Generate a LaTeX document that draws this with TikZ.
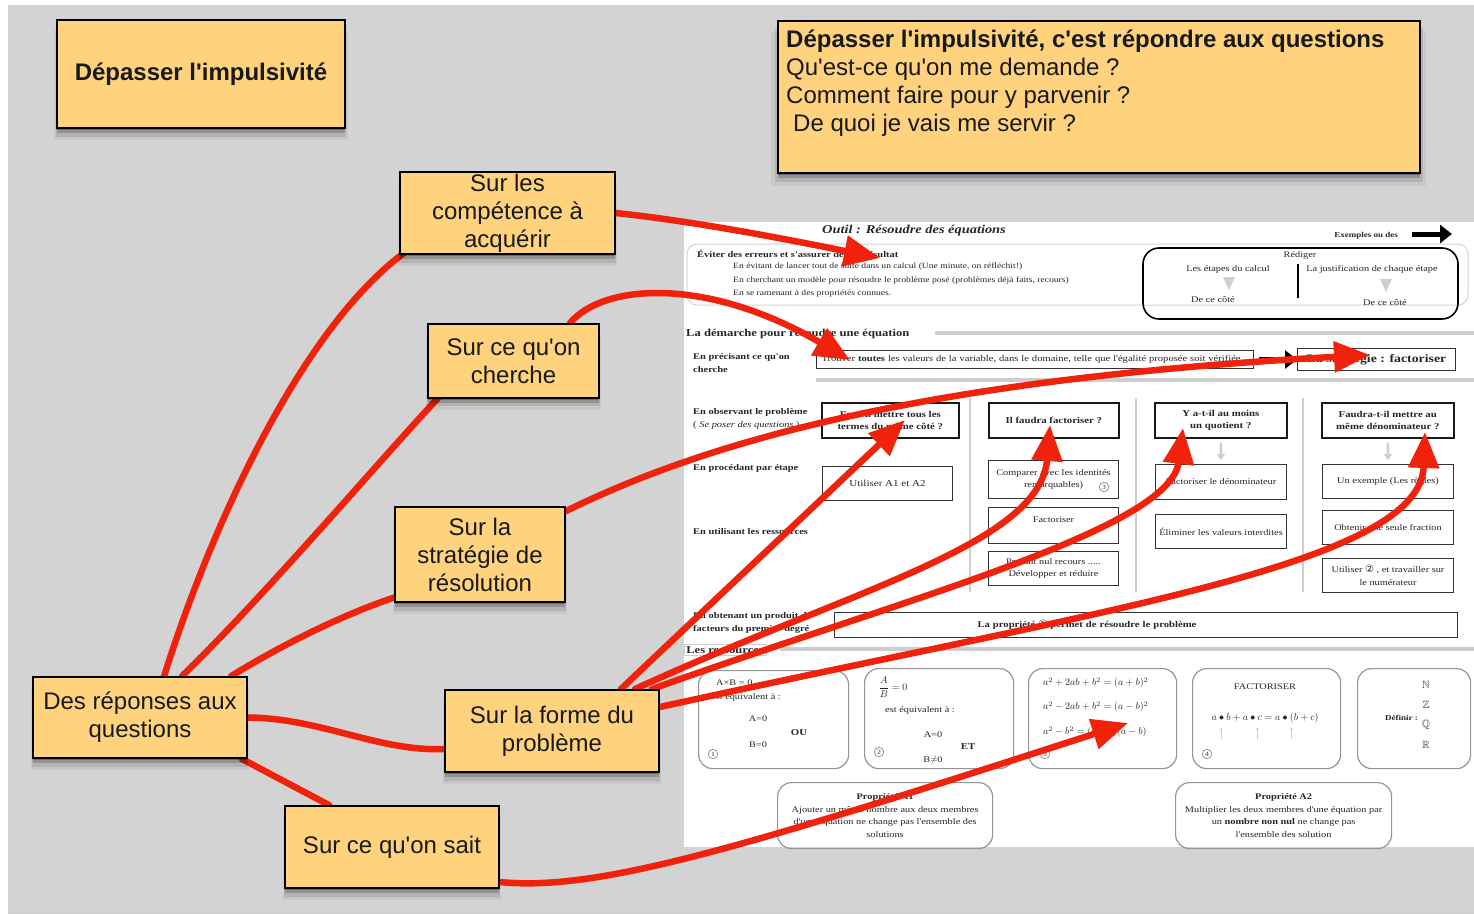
\documentclass[tikz,border=0pt]{standalone}
\usepackage{fontspec}
\usepackage{amssymb}
\setmainfont{Liberation Serif}
\newfontfamily\mapfont{Liberation Sans}
\newfontfamily\sheetfont[FakeStretch=1.2]{Liberation Serif}
\newfontfamily\circfont{DejaVu Sans}
\usetikzlibrary{arrows.meta,shadows,calc}

\definecolor{canvasgray}{RGB}{211,211,211}
\definecolor{notefill}{RGB}{255,210,125}
\definecolor{linkred}{RGB}{240,34,12}
\definecolor{barcol}{RGB}{206,206,206}
\definecolor{framecol}{RGB}{150,150,150}

\newcommand{\fsz}[2]{\fontsize{#1}{#2}\selectfont}

\pgfdeclarelayer{front}
\pgfsetlayers{main,front}

\tikzset{
  softshadow/.style={
    drop shadow={shadow xshift=0pt, shadow yshift=-2pt, opacity=.25, fill=black},
    drop shadow={shadow xshift=0pt, shadow yshift=-5pt, opacity=.18, fill=black},
    drop shadow={shadow xshift=0pt, shadow yshift=-8pt, opacity=.10, fill=black, shadow scale=1.01},
    drop shadow={shadow xshift=0pt, shadow yshift=-11pt, opacity=.05, fill=black, shadow scale=1.02}},
  notebox/.style={draw=black, line width=1.8pt, fill=notefill, inner sep=0pt,
    align=center, text=black!90, font=\mapfont\fsz{24}{28}, softshadow},
  notetext/.style={anchor=base west, inner sep=0pt, text=black!90, font=\mapfont\fsz{24}{28}},
  redlink/.style={draw=linkred, line width=6.5pt, line cap=round},
  redarrow/.style={redlink, -{Triangle[length=36pt,width=30pt]}},
  sheet/.style={inner sep=0pt, text=black!85, font=\sheetfont\fsz{8.6}{12.5}},
  tag/.style={sheet, anchor=west, align=left, font=\sheetfont\bfseries\fsz{8.7}{12.5}},
  secttl/.style={sheet, anchor=west, font=\sheetfont\bfseries\fsz{10.5}{12.5}},
  cell/.style={sheet, draw=black!80, line width=1pt, align=center, anchor=north west},
  qbox/.style={sheet, draw=black!90, line width=1.6pt, align=center, anchor=north west,
    font=\sheetfont\bfseries\fsz{9}{12}},
  resbox/.style={sheet, draw=framecol, line width=1.2pt, rounded corners=14pt,
    align=center, anchor=north west},
  numring/.style={circle, draw=framecol, line width=.8pt, inner sep=1.3pt,
    font=\sheetfont\fsz{6.5}{7}, text=black!80},
  greybar/.style={draw=barcol, line width=4pt},
  colrule/.style={draw=barcol, line width=2pt},
  greyarrow/.style={draw=barcol, line width=2.5pt, -{Triangle[length=6pt,width=8pt]}},
  tinyarrow/.style={draw=barcol, line width=.8pt, -{Triangle[length=3pt,width=3pt]}},
  blackarrow/.style={draw=black, line width=5pt, -{Triangle[length=12pt,width=18pt]}},
}

\begin{document}
\begin{tikzpicture}[x=1pt,y=-1pt]
\useasboundingbox (0,0) rectangle (1474,914);
\fill[white] (0,0) rectangle (1474,914);
\fill[canvasgray] (8,5) rectangle (1474,914);

% ---------- worksheet panel ----------
\fill[white] (684,222) rectangle (1474,847);

\node[sheet, font=\sheetfont\bfseries\itshape\fsz{12}{14}] (shtitle) at (914,231) {Outil : Résoudre des équations};
\node[sheet, anchor=east, font=\sheetfont\bfseries\fsz{7.5}{9}] (shex) at (1398,236) {Exemples ou des};
\coordinate (exa) at (1412,234);
\coordinate (exb) at (1452,234);
\draw[blackarrow] (exa) -- (exb);

\draw[barcol!90, line width=1pt, rounded corners=10pt] (687,244) rectangle (1468,305);
\node[tag] (shavoid) at (697,254) {Éviter des erreurs et s'assurer de son résultat};
\node[sheet, anchor=west, font=\sheetfont\fsz{8}{10}] (shav1) at (733,267) {En évitant de lancer tout de suite dans un calcul (Une minute, on réfléchit!)};
\node[sheet, anchor=west, font=\sheetfont\fsz{8}{10}] (shav2) at (733,281) {En cherchant un modèle pour résoudre le problème posé (problèmes déjà faits, recours)};
\node[sheet, anchor=west, font=\sheetfont\fsz{8}{10}] (shav3) at (733,294) {En se ramenant à des propriétés connues.};

% writing box
\draw[black, line width=1.6pt, rounded corners=16pt] (1143,248) rectangle (1458,319);
\node[sheet] (shwrite) at (1300,255) {Rédiger};
\node[sheet] (shsteps) at (1228,269) {Les étapes du calcul};
\node[sheet] (shjust) at (1372,269) {La justification de chaque étape};
\draw[black, line width=1.5pt] (1298,264) -- (1298,298);
\fill[barcol] (1223,277) -- (1235,277) -- (1229,290) -- cycle;
\fill[barcol] (1380,279) -- (1392,279) -- (1386,292) -- cycle;
\node[sheet] (shside1) at (1213,300) {De ce côté};
\node[sheet] (shside2) at (1385,303) {De ce côté};

% method
\node[secttl] (shmethod) at (686,334) {La démarche pour résoudre une équation};
\draw[greybar] (935,333) -- (1474,333);
\node[tag] (shseek) at (693,363) {En précisant ce qu'on\\cherche};
\node[cell, minimum width=437pt, minimum height=18pt, inner xsep=5pt, text width=427pt, align=left, font=\sheetfont\fsz{8.8}{10}] (shgoal) at (816,350) {Trouver \textbf{toutes} les valeurs de la variable, dans le domaine, telle que l'égalité proposée soit vérifiée};
\node[cell, minimum width=158pt, minimum height=22pt, font=\sheetfont\bfseries\fsz{11.5}{13}] (shstrat) at (1297,348) {La stratégie : factoriser};
\draw[blackarrow] ($(shgoal.east)+(5,0)$) -- (shstrat.west);
\draw[greybar] (816,380) -- (1474,380);

\node[tag, font=\sheetfont\fsz{8.7}{12.5}] (shobs) at (693,419) {\textbf{En observant le problème}\\( \textit{Se poser des questions} )};

\node[qbox, minimum width=137pt, minimum height=35pt] (shh1) at (821,402) {Faut-il mettre tous les\\termes du même côté ?};
\node[qbox, minimum width=130pt, minimum height=35pt] (shh2) at (988,402) {Il faudra factoriser ?};
\node[qbox, minimum width=132pt, minimum height=35pt] (shh3) at (1154,402) {Y a-t-il au moins\\un quotient ?};
\node[qbox, minimum width=132pt, minimum height=35pt] (shh4) at (1321,402) {Faudra-t-il mettre au\\même dénominateur ?};

\draw[colrule] (970,398) -- (970,592);
\draw[colrule] (1136,398) -- (1136,592);
\draw[colrule] (1303,398) -- (1303,592);

\node[tag] (shstep) at (693,468) {En procédant par étape};
\node[tag] (shuse) at (693,532) {En utilisant les ressources};

\node[cell, minimum width=130pt, minimum height=34pt, font=\sheetfont\fsz{9.2}{11}] (shc1a) at (822,466) {Utiliser A1 et A2};

\node[cell, minimum width=130pt, minimum height=38pt] (shc2a) at (988,460) {Comparer avec les identités\\remarquables)};
\node[numring] (shn3) at (1104,487) {3};
\node[cell, minimum width=130pt, minimum height=36pt] (shc2b) at (988,507) {Factoriser\\~};
\node[cell, minimum width=130pt, minimum height=34pt] (shc2c) at (988,551) {Produit nul recours .....\\Développer et réduire};

\node[cell, minimum width=131pt, minimum height=35pt] (shc3a) at (1155,464) {Factoriser le dénominateur};
\node[cell, minimum width=131pt, minimum height=34pt] (shc3b) at (1155,514) {Éliminer les valeurs interdites};

\node[cell, minimum width=131pt, minimum height=34pt] (shc4a) at (1322,464) {Un exemple (Les règles)};
\node[cell, minimum width=131pt, minimum height=34pt] (shc4b) at (1322,510) {Obtenir une seule fraction};
\node[cell, minimum width=131pt, minimum height=34pt] (shc4c) at (1322,558) {Utiliser {\circfont\fsz{10}{10}②} , et travailler sur\\le numérateur};

\draw[greyarrow] ($(shh2.south)+(0,4)$) -- ($(shc2a.north)+(0,-3)$);
\draw[greyarrow] ($(shh3.south)+(0,4)$) -- ($(shc3a.north)+(0,-4)$);
\draw[greyarrow] ($(shh4.south)+(0,4)$) -- ($(shc4a.north)+(0,-4)$);

\node[tag] (shprod) at (693,623) {En obtenant un produit de\\facteurs du premier degré};
\node[cell, minimum width=623pt, minimum height=25pt, inner xsep=0pt, text width=623pt, align=left, font=\sheetfont\bfseries\fsz{8.9}{10}] (shprop) at (834,612) {\hspace*{143pt}La propriété {\circfont\mdseries\fsz{10}{10}①} permet de résoudre le problème};

% resources
\node[secttl, draw=barcol, line width=.6pt, inner sep=2pt] (shres) at (684,650) {Les ressources};
\draw[greybar] (780,649) -- (1474,649);

\node[resbox, minimum width=150pt, minimum height=98pt] (shr1) at (698,670) {};
\node[sheet, anchor=west] (shr1a) at (716,683) {A×B = 0};
\node[sheet, anchor=west] (shr1b) at (711,697) {est équivalent à :};
\node[sheet] (shr1c) at (758,719) {A=0};
\node[sheet] (shr1d) at (758,745) {B=0};
\node[sheet, font=\sheetfont\bfseries\fsz{9}{10}] (shr1e) at (799,733) {OU};
\node[numring] (shr1n) at (713,754) {1};

\node[resbox, minimum width=149pt, minimum height=100pt] (shr2) at (864,668) {};
\node[sheet, font=\fsz{10}{11}] (shr2a) at (893,687) {$\displaystyle\frac{A}{B}=0$};
\node[sheet, anchor=west] (shr2b) at (885,710) {est équivalent à :};
\node[sheet] (shr2c) at (933,735) {A=0};
\node[sheet] (shr2d) at (933,760) {B$\neq$0};
\node[sheet, font=\sheetfont\bfseries\fsz{9}{10}] (shr2e) at (968,747) {ET};
\node[numring] (shr2n) at (879,752) {2};

\node[resbox, minimum width=148pt, minimum height=100pt] (shr3) at (1028,668) {};
\node[sheet, anchor=west, font=\fsz{10.2}{11}] (shr3a) at (1043,683) {$a^2+2ab+b^2=(a+b)^2$};
\node[sheet, anchor=west, font=\fsz{10.2}{11}] (shr3b) at (1043,707) {$a^2-2ab+b^2=(a-b)^2$};
\node[sheet, anchor=west, font=\fsz{10.2}{11}] (shr3c) at (1043,732) {$a^2-b^2=(a+b)(a-b)$};
\node[numring] (shr3n) at (1045,754) {3};

\node[resbox, minimum width=148pt, minimum height=100pt] (shr4) at (1192,668) {};
\node[sheet] (shr4a) at (1265,687) {FACTORISER};
\node[sheet, font=\fsz{10.2}{11}] (shr4b) at (1265,718) {$a\bullet b+a\bullet c=a\bullet(b+c)$};
\draw[tinyarrow] ($(shr4b.south west)+(10,16)$) -- ++(0,-12);
\draw[tinyarrow] ($(shr4b.south west)+(46,16)$) -- ++(0,-12);
\draw[tinyarrow] ($(shr4b.south west)+(80,16)$) -- ++(0,-12);
\node[numring] (shr4n) at (1207,754) {4};

\node[resbox, minimum width=113pt, minimum height=100pt] (shr5) at (1357,668) {};
\node[sheet, anchor=east, font=\sheetfont\bfseries\fsz{7.5}{9}] (shr5a) at (1418,718) {Définir :};
\node[sheet, font=\fsz{10.5}{11}] (shr5n) at (1426,685) {$\mathbb{N}$};
\node[sheet, font=\fsz{10.5}{11}] (shr5z) at (1426,705) {$\mathbb{Z}$};
\node[sheet, font=\fsz{10.5}{11}] (shr5q) at (1426,725) {$\mathbb{Q}$};
\node[sheet, font=\fsz{10.5}{11}] (shr5r) at (1426,745) {$\mathbb{R}$};

\node[resbox, minimum width=215pt, minimum height=66pt, font=\sheetfont\fsz{8.6}{12.8}] (shpa1) at (777,782) {\textbf{Propriété A1}\\Ajouter un même nombre aux deux membres\\d'une équation ne change pas l'ensemble des\\solutions};
\node[resbox, minimum width=216pt, minimum height=66pt, font=\sheetfont\fsz{8.6}{12.8}] (shpa2) at (1175,782) {\textbf{Propriété A2}\\Multiplier les deux membres d'une équation par\\un \textbf{nombre non nul} ne change pas\\l'ensemble des solution};

% ---------- mind-map notes ----------
\begin{pgfonlayer}{front}
\node[notebox, minimum width=288pt, minimum height=108pt, font=\mapfont\bfseries\fsz{24}{28}] (title) at (201,74) {Dépasser l'impulsivité};

\node[notebox, minimum width=642pt, minimum height=152pt, anchor=north west] (goal) at (777,20) {};
\node[notetext, font=\mapfont\bfseries\fsz{24}{28}] (goala) at (786,47) {Dépasser l'impulsivité, c'est répondre aux questions};
\node[notetext] (goalb) at (786,75) {Qu'est-ce qu'on me demande ?};
\node[notetext] (goalc) at (786,103) {Comment faire pour y parvenir ?};
\node[notetext] (goald) at (793,131) {De quoi je vais me servir ?};

\node[notebox, minimum width=215pt, minimum height=82pt] (comp) at (507.5,213) {Sur les\\compétence à\\acquérir};
\node[notebox, minimum width=171pt, minimum height=74pt] (cher) at (513.5,361) {Sur ce qu'on\\cherche};
\node[notebox, minimum width=170pt, minimum height=95pt] (strat) at (480,554.5) {Sur la\\stratégie de\\résolution};
\node[notebox, minimum width=214pt, minimum height=81pt] (dr) at (140,717.5) {Des réponses aux\\questions};
\node[notebox, minimum width=214pt, minimum height=82pt] (forme) at (552,731) {Sur la forme du\\problème};
\node[notebox, minimum width=214pt, minimum height=82pt] (sait) at (392,847) {Sur ce qu'on sait};
\end{pgfonlayer}

% ---------- red connectors ----------
\draw[redlink] ($(dr.north west)+(132,0)$) .. controls (210,530) and (300,330) .. ($(comp.south west)+(5,-2)$);
\draw[redlink] ($(dr.north west)+(150,0)$) .. controls (270,590) and (380,460) .. ($(cher.south west)+(12,-2)$);
\draw[redlink] ($(dr.north west)+(199,0)$) .. controls (290,640) and (350,612) .. ($(strat.south west)+(2,-6)$);
\draw[redlink] (dr.east) .. controls (320,718) and (380,752) .. ($(forme.west)+(0,18)$);
\draw[redlink] ($(dr.south east)+(-6,0)$) -- ($(sait.north west)+(45,0)$);

\coordinate (tipA) at (880,258);
\coordinate (tipB) at (850,360);
\coordinate (tipC) at (1370,355);
\coordinate (tipD1) at (905,420);
\coordinate (tipD2) at (1050,425);
\coordinate (tipD3) at (1183,428);
\coordinate (tipD4) at (1425,432);
\coordinate (tipE) at (1128,723);

\draw[redarrow] (comp.east) .. controls (700,222) and (790,240) .. (tipA);
\draw[redarrow] ($(cher.north east)+(-30,0)$) .. controls (605,282) and (710,278) .. (tipB);
\draw[redarrow] ($(strat.north east)+(0,5)$) .. controls (690,450) and (900,380) .. (tipC);
\draw[redarrow] ($(forme.north east)+(-39,0)$) -- (tipD1);
\draw[redarrow] ($(forme.north east)+(-25,0)$) .. controls (850,590) and (1040,545) .. (tipD2);
\draw[redarrow] ($(forme.north east)+(-8,0)$) .. controls (900,600) and (1170,530) .. (tipD3);
\draw[redarrow] ($(forme.east)+(0,-24)$) .. controls (1100,610) and (1420,565) .. (tipD4);
\draw[redarrow] ($(sait.east)+(0,35)$) .. controls (600,892) and (750,845) .. (tipE);
\end{tikzpicture}
\end{document}
